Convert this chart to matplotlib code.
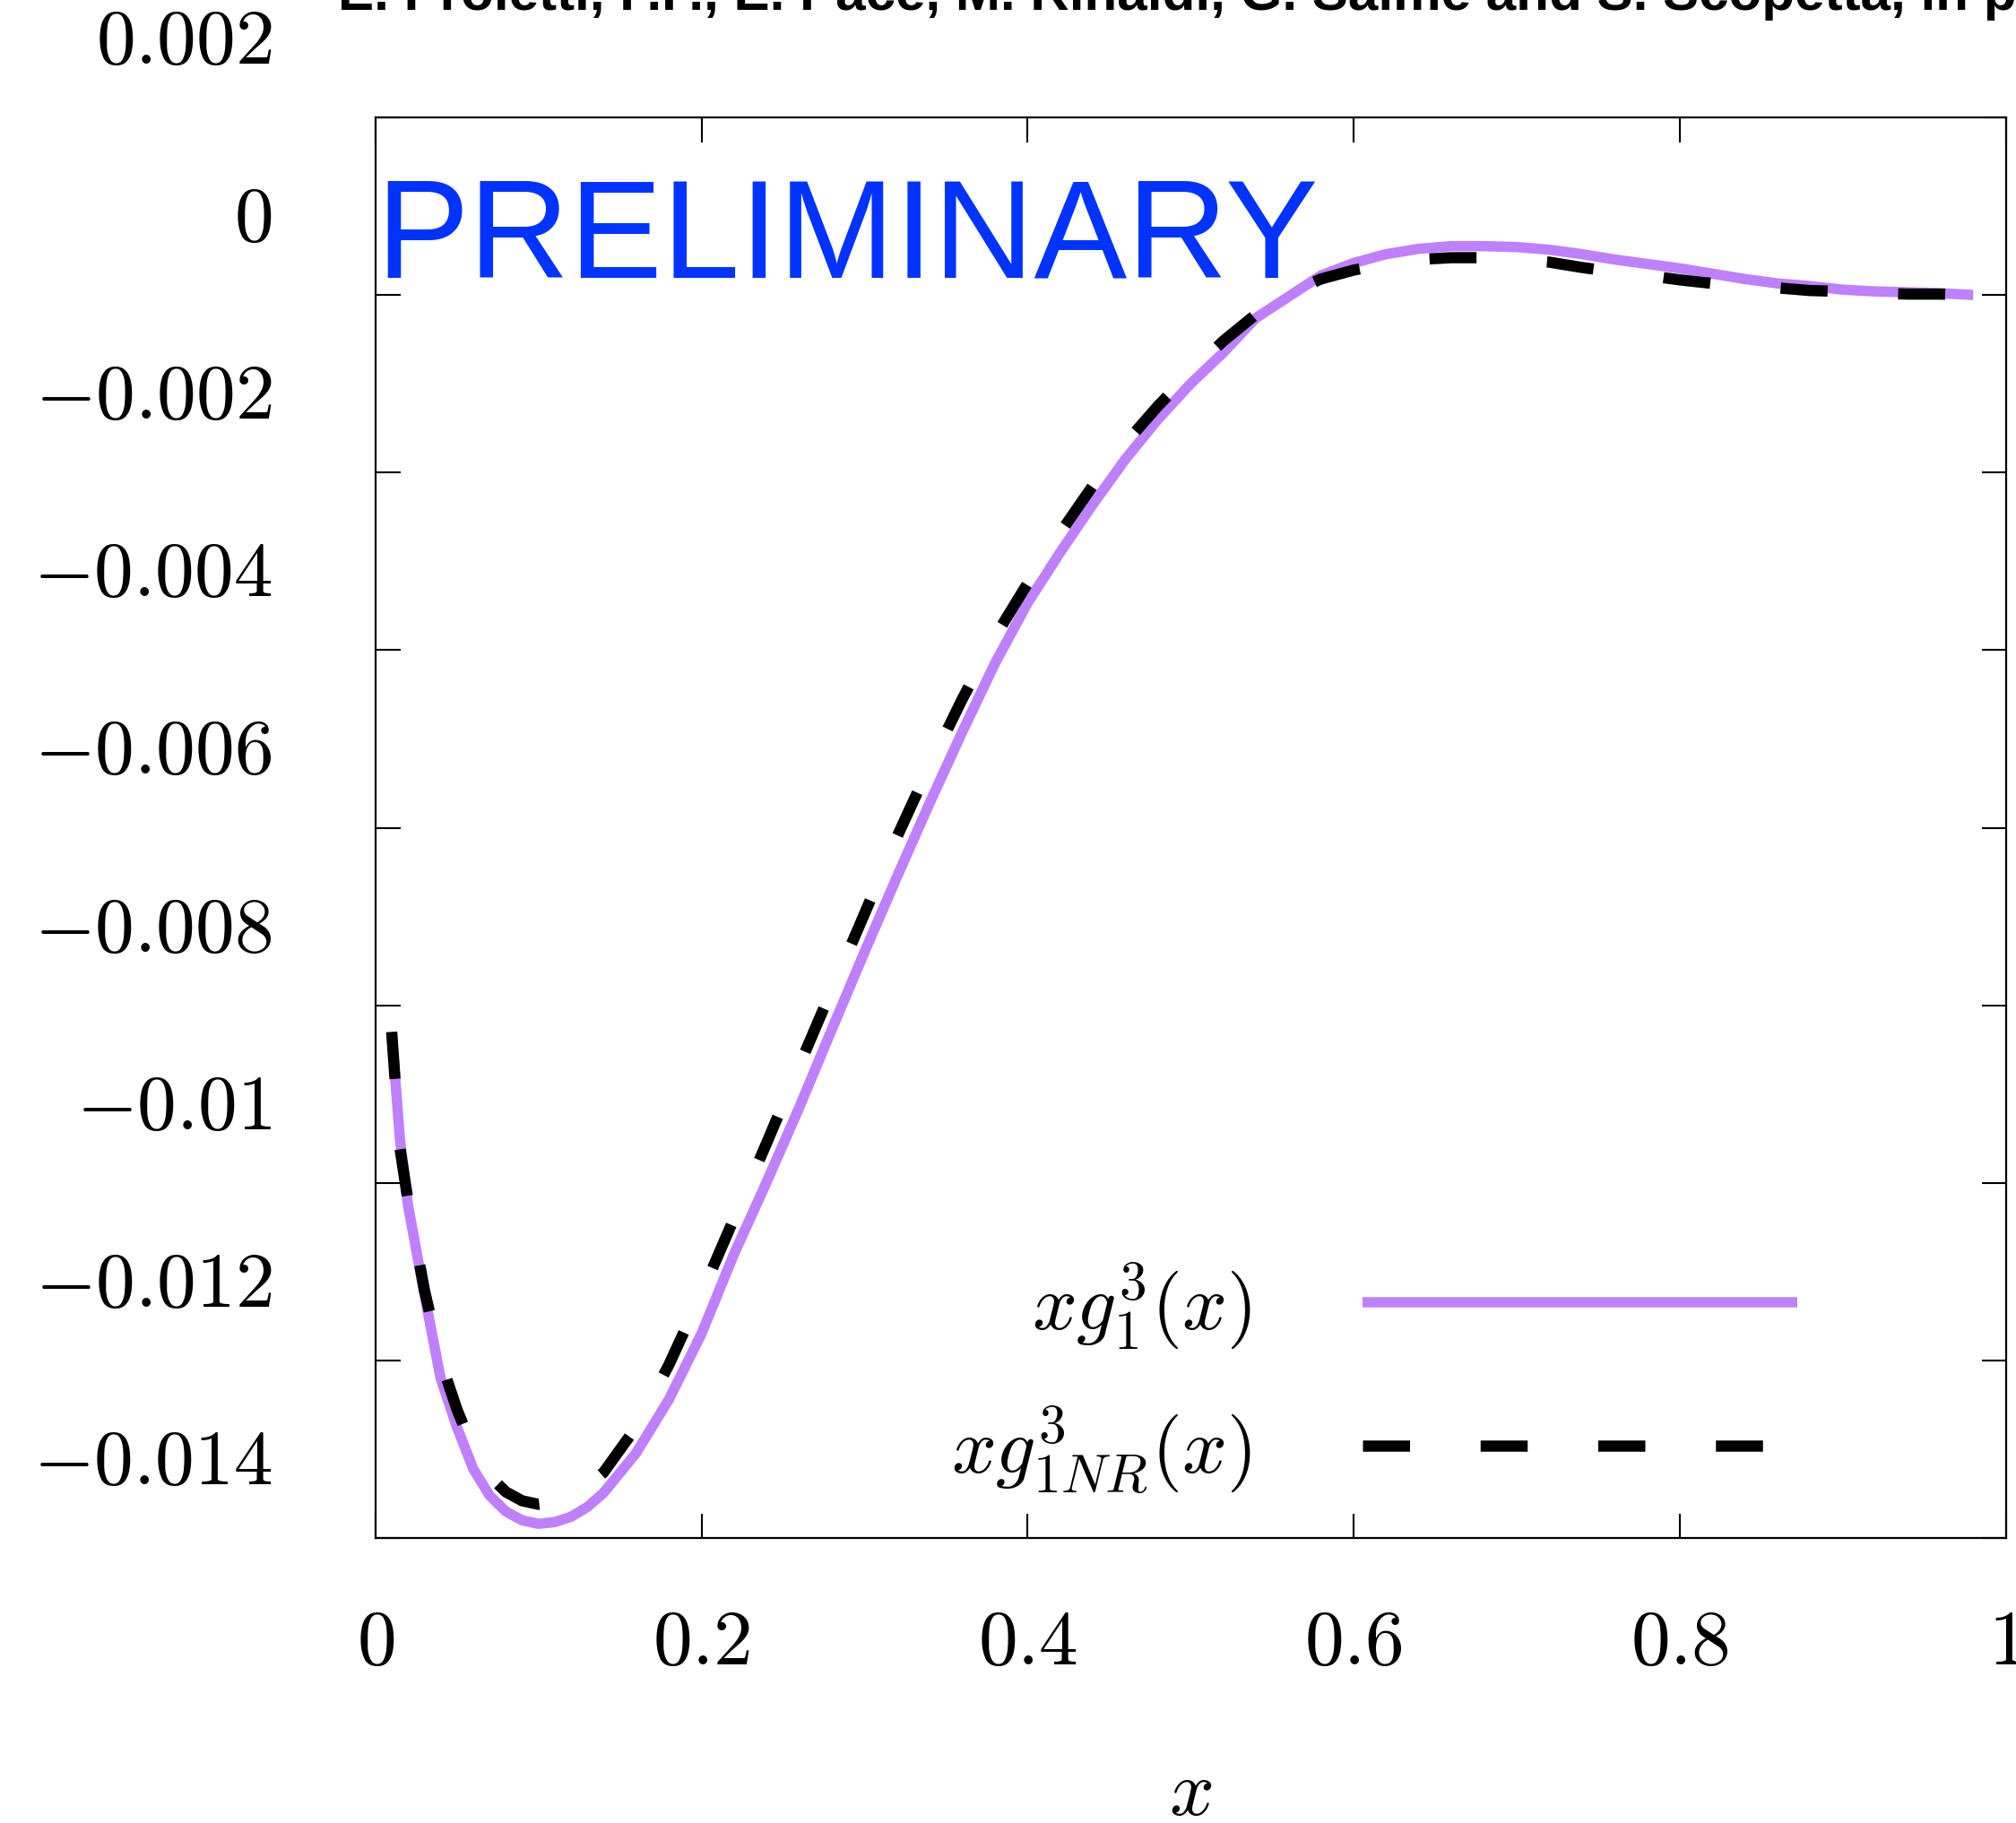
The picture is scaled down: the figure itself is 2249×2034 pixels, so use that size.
import matplotlib
matplotlib.use("Agg")
import matplotlib.pyplot as plt
from matplotlib.transforms import ScaledTranslation

# ---- data ------------------------------------------------------------------
x_grid = [0.01, 0.015, 0.02, 0.03, 0.04, 0.05, 0.06, 0.07, 0.08, 0.09, 0.10,
          0.11, 0.12, 0.13, 0.14, 0.16, 0.18, 0.20, 0.22, 0.24, 0.26, 0.28,
          0.30, 0.32, 0.34, 0.36, 0.38, 0.40, 0.42, 0.44, 0.46, 0.48, 0.50,
          0.52, 0.54, 0.56, 0.58, 0.60, 0.62, 0.64, 0.66, 0.68, 0.70, 0.72,
          0.74, 0.76, 0.78, 0.80, 0.82, 0.84, 0.86, 0.88, 0.90, 0.92, 0.94,
          0.96, 0.98]

# x g_1^3(x)  (solid purple)
xg1 = [-0.0083, -0.0095, -0.01025, -0.01125, -0.0122, -0.01275, -0.01322,
       -0.01352, -0.0137, -0.0138, -0.01384, -0.01382, -0.01376, -0.01365,
       -0.01349, -0.01304, -0.01244, -0.0117, -0.0108, -0.00999, -0.00915,
       -0.00827, -0.0074, -0.00655, -0.00572, -0.00492, -0.00415, -0.00347,
       -0.0029, -0.00236, -0.00185, -0.0014, -0.001, -0.00065, -0.00026,
       -0.00002, 0.00022, 0.00036, 0.00046, 0.00052, 0.00055, 0.00055,
       0.00054, 0.00051, 0.00046, 0.0004, 0.00035, 0.0003, 0.00024, 0.00018,
       0.00013, 0.0001, 0.00006, 0.00004, 0.00003, 0.00002, 0.0]

# x g_{1NR}^3(x)  (dashed black)
xg1_nr = [-0.0083, -0.0096, -0.0102, -0.0112, -0.012, -0.01255, -0.013,
          -0.0133, -0.01348, -0.01358, -0.01362, -0.0136, -0.01353, -0.01342,
          -0.01326, -0.01275, -0.01205, -0.01125, -0.0104, -0.00955, -0.00868,
          -0.00782, -0.00697, -0.0061, -0.0053, -0.00455, -0.00385, -0.00325,
          -0.00268, -0.00215, -0.00167, -0.00125, -0.00087, -0.00052,
          -0.00022, 0.00002, 0.00018, 0.00028, 0.00035, 0.0004, 0.00042,
          0.00042, 0.0004, 0.00037, 0.00031, 0.00026, 0.00022, 0.00017,
          0.00013, 0.0001, 0.00008, 0.00005, 0.00004, 0.00002, 0.00001,
          0.00001, 0.0]

x_ticks = [0, 0.2, 0.4, 0.6, 0.8, 1.0]
x_tick_labels = [r"$0$", r"$0.2$", r"$0.4$", r"$0.6$", r"$0.8$", r"$1$"]
y_ticks = [0.002, 0.0, -0.002, -0.004, -0.006, -0.008, -0.01, -0.012, -0.014]
y_tick_labels = [r"$0.002$", r"$0$", r"$-0.002$", r"$-0.004$", r"$-0.006$",
                 r"$-0.008$", r"$-0.01$", r"$-0.012$", r"$-0.014$"]

labels = [r"$xg_1^3(x)$", r"$xg_{1NR}^3(x)$"]
title = "E. Proietti, F.F., E. Pace, M. Rinaldi, G. Salmè and S. Scopetta, in preparation"

# ---- figure ----------------------------------------------------------------
plt.rcParams["mathtext.fontset"] = "cm"
FS = 63

fig = plt.figure(figsize=(22.49, 20.34), dpi=100)
ax = fig.add_axes([0.1862, 0.1563, 0.8087, 0.7793])

(l1,) = ax.plot(x_grid, xg1, color="#bf80ff", lw=8.3, solid_capstyle="butt", zorder=2)
(l2,) = ax.plot(x_grid, xg1_nr, color="black", lw=9.0, dashes=(4.2, 6.3),
                dash_capstyle="butt", zorder=3)

ax.set_xlim(0, 1)
ax.set_ylim(-0.014, 0.002)
ax.set_xticks(x_ticks)
ax.set_xticklabels(x_tick_labels)
ax.set_yticks(y_ticks)
ax.set_yticklabels(y_tick_labels)

ax.tick_params(direction="in", length=19.8, width=1.5, top=True, right=True,
               labelsize=FS)
ax.tick_params(axis="y", pad=83)
ax.tick_params(axis="x", pad=54)
for sp in ax.spines.values():
    sp.set_linewidth(1.6)

# y tick labels sit above their ticks in the reference
shift = ScaledTranslation(0, 67 / 72, fig.dpi_scale_trans)
for lbl in ax.get_yticklabels():
    lbl.set_transform(lbl.get_transform() + shift)

ax.set_xlabel(r"$x$", fontsize=FS)
ax.xaxis.set_label_coords(0.5, -0.1798)
ax.xaxis.label.set_va("center")

ax.legend([l1, l2], labels, loc="lower right", bbox_to_anchor=(0.872, 0.029),
          frameon=False, markerfirst=False, fontsize=FS, handlelength=5.54,
          handletextpad=1.42, labelspacing=0.65, borderpad=0, borderaxespad=0)

ax.text(0.0, 0.8871, "PRELIMINARY", transform=ax.transAxes, ha="left",
        va="baseline", fontsize=112, color="#0033ff", family="Liberation Sans")

fig.text(0.1676, 0.9946, title, ha="left", va="baseline", fontsize=43.3,
         fontweight="bold", family="Liberation Sans")

fig.savefig("out.png", dpi=100)
